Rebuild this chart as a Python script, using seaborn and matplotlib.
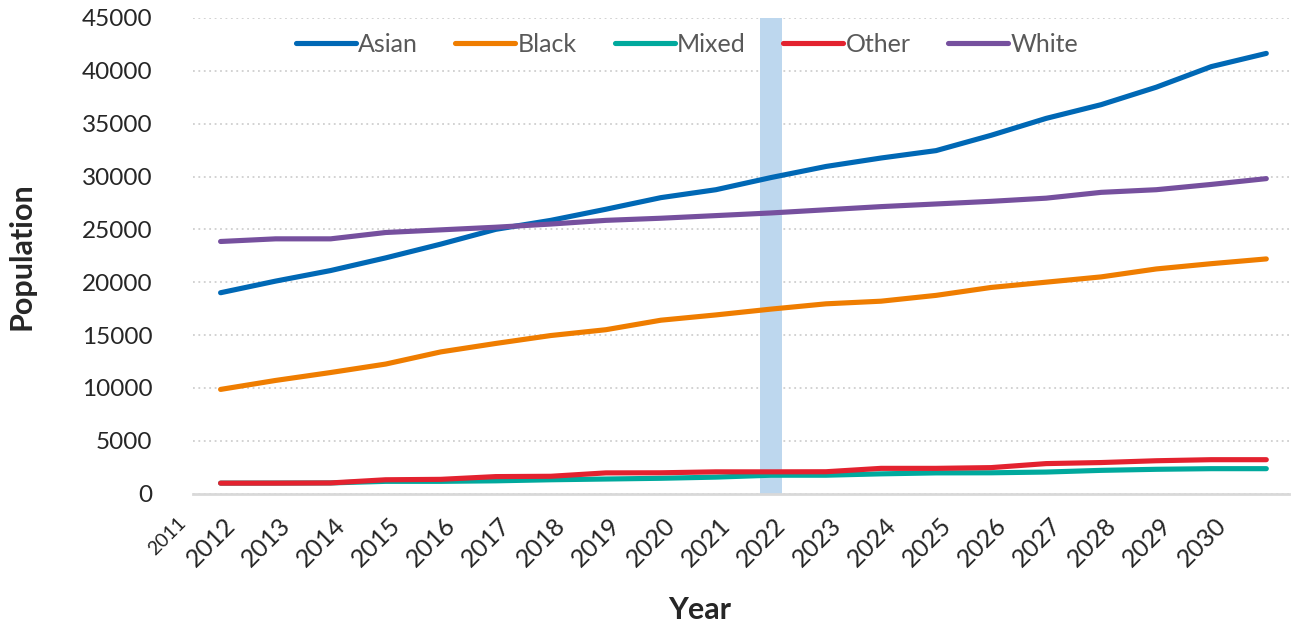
import pandas as pd
import matplotlib
matplotlib.use("Agg")
import matplotlib.pyplot as plt
import matplotlib.transforms as mtransforms
import seaborn as sns

# Year labels on the x axis (first one sits left of the plot in the original)
year_labels = [str(y) for y in range(2011, 2031)]

# Population per group (20 points each)
asian = [19000, 20100, 21100, 22300, 23600, 25000, 25850, 26900, 28000, 28750,
         29900, 30950, 31750, 32450, 33900, 35500, 36800, 38450, 40400, 41650]
black = [9850, 10700, 11450, 12250, 13400, 14200, 14950, 15500, 16400, 16900,
         17450, 17950, 18200, 18750, 19500, 20000, 20500, 21250, 21750, 22200]
mixed = [980, 990, 1000, 1150, 1150, 1200, 1300, 1370, 1440, 1550,
         1730, 1730, 1860, 1950, 1960, 2030, 2190, 2290, 2350, 2350]
other = [980, 980, 1000, 1300, 1340, 1600, 1630, 1950, 1960, 2050,
         2050, 2060, 2380, 2380, 2450, 2830, 2930, 3100, 3200, 3200]
white = [23850, 24100, 24100, 24700, 24950, 25200, 25500, 25850, 26050, 26300,
         26550, 26850, 27150, 27400, 27650, 27950, 28500, 28750, 29250, 29800]

groups = ["Asian", "Black", "Mixed", "Other", "White"]
colors = ["#0068B5", "#EF7D00", "#00A99D", "#E3222F", "#76509E"]

rows = []
for g, vals in zip(groups, [asian, black, mixed, other, white]):
    for i, v in enumerate(vals):
        rows.append({"idx": i, "Group": g, "Population": v})
df = pd.DataFrame(rows)

sns.set_style("white")
plt.rcParams["font.family"] = ["Lato", "DejaVu Sans"]

fig = plt.figure(figsize=(12.92, 6.25), dpi=100)
ax = fig.add_axes([0.149, 0.2104, 0.849, 0.7608])

# highlighted year (current year band)
ax.axvspan(10 - 0.205, 10 + 0.205, ymin=-0.004, ymax=1.0, color="#BDD7EE",
           zorder=1, clip_on=False, lw=0)

sns.lineplot(data=df, x="idx", y="Population", hue="Group", palette=colors,
             linewidth=3.7, ax=ax, zorder=3, solid_capstyle="round")

ax.set_xlim(-0.51, 19.42)
ax.set_ylim(0, 45000)
ax.set_yticks(range(0, 45001, 5000))
ax.yaxis.grid(True, linestyle=(0, (1, 2)), color="#CFCFCF", linewidth=1.3, zorder=0)
ax.set_axisbelow(True)
for s in ["top", "right", "left"]:
    ax.spines[s].set_visible(False)
ax.spines["bottom"].set_color("#D9D9D9")
ax.spines["bottom"].set_linewidth(2)
ax.spines["bottom"].set_zorder(2)

ax.tick_params(axis="y", length=0, pad=29, labelsize=17.5)
ax.tick_params(axis="x", length=0, pad=20, labelsize=18)

ax.set_xticks(range(19))
ax.set_xticklabels(year_labels[1:], rotation=45, ha="right", va="center",
                   rotation_mode="anchor")
shift = mtransforms.ScaledTranslation(8 / 72, 0, fig.dpi_scale_trans)
for lab in ax.get_xticklabels():
    lab.set_transform(lab.get_transform() + shift)

ax.annotate(year_labels[0], xy=(-1, 0), xycoords=("data", "axes fraction"),
            xytext=(13, -19), textcoords="offset points", rotation=45,
            ha="right", va="center", rotation_mode="anchor", fontsize=14,
            annotation_clip=False)

ax.set_xlabel("Year", fontsize=22, fontweight="bold")
ax.set_ylabel("Population", fontsize=22, fontweight="bold")
ax.xaxis.set_label_coords(0.462, -0.245)
ax.xaxis.label.set_va("center")
ax.yaxis.set_label_coords(-0.156, 0.5)
ax.yaxis.label.set_va("center")

handles, labels = ax.get_legend_handles_labels()
leg = ax.legend(handles, labels, loc="center", ncol=5, frameon=False,
                bbox_to_anchor=(687 / 1292, 1 - 44 / 625),
                bbox_transform=fig.transFigure, fontsize=18,
                handlelength=2.4, handletextpad=0.1, columnspacing=1.5)
for t in leg.get_texts():
    t.set_color("#595959")
for h in leg.get_lines():
    h.set_linewidth(3.7)
    h.set_solid_capstyle("round")

fig.savefig("out.png", dpi=100)
